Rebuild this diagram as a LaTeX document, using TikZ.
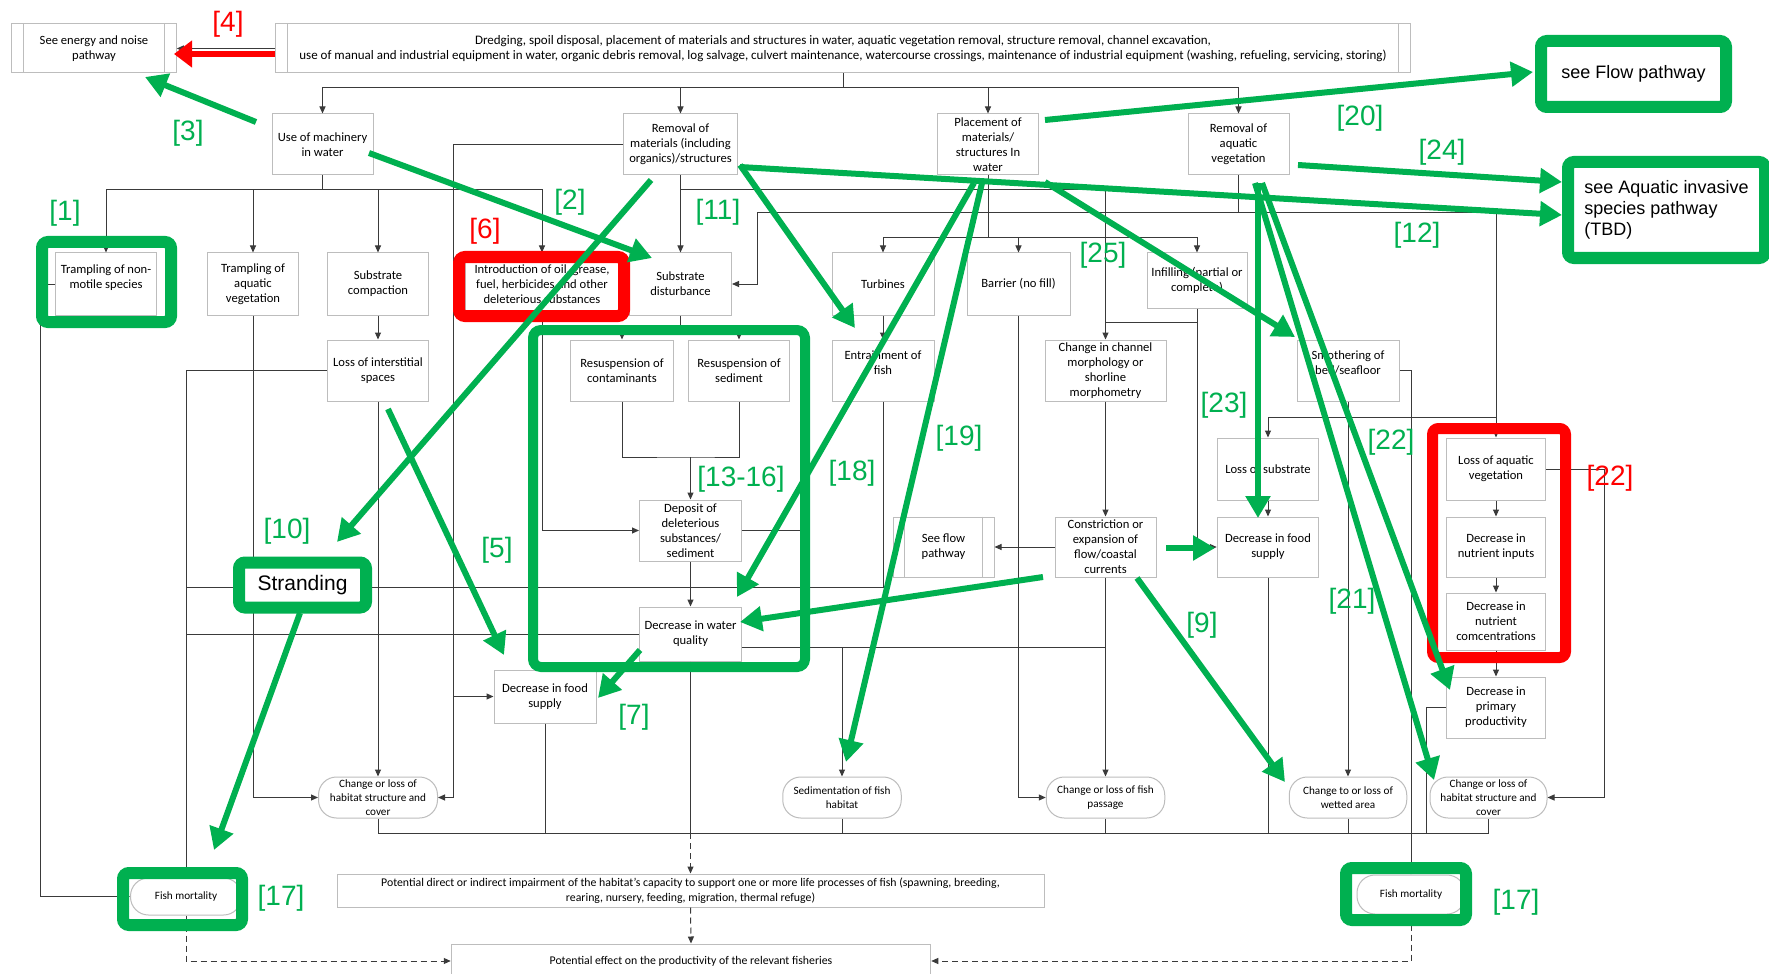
\documentclass[tikz,border=0pt]{standalone}
\usepackage{fontspec}
\setmainfont{Carlito}
\newfontfamily\arial{Liberation Sans}
\usetikzlibrary{arrows.meta}
\definecolor{ggreen}{HTML}{00B050}
\definecolor{rred}{HTML}{FF0000}
\definecolor{boxgray}{HTML}{BDBDBD}
\definecolor{linegray}{HTML}{3A3A3A}
\begin{document}
\begin{tikzpicture}[x=0.5pt,y=-0.5pt,
  wh/.style 2 args={minimum width={#1*0.5pt}, minimum height={#2*0.5pt}},
  box/.style={draw=boxgray, line width=0.5pt, fill=white, inner sep=0pt, align=center, font=\fontsize{6.3}{7.5}\selectfont},
  term/.style={box, rounded corners=9pt, font=\fontsize{5.6}{7}\selectfont},
  conn/.style={draw=linegray, line width=0.5pt},
  arr/.style={conn, -{Triangle[length=3.5pt,width=3pt]}},
  darr/.style={arr, dash pattern=on 3pt off 2pt},
  garrow/.style={draw=ggreen, line width=3pt, -{Triangle[length=11pt,width=12pt]}},
  gframe/.style={draw=ggreen, line width=6pt, rounded corners=3pt},
  rframe/.style={draw=rred, line width=6pt, rounded corners=3pt},
  glabel/.style={text=ggreen, font=\arial\fontsize{14}{14}\selectfont, inner sep=0pt},
  rlabel/.style={glabel, text=rred}]
\useasboundingbox (0,0) rectangle (1769,974);
\fill[white] (0,0) rectangle (1769,974);

% ---------- nodes ----------
\node[box,wh={164.5}{49}] (energy) at (94,48.5) {See energy and noise\\pathway};
\node[box,wh={1134.5}{49},font=\fontsize{6.5}{7.4}\selectfont] (top) at (843,48.5) {Dredging, spoil disposal, placement of materials and structures in water, aquatic vegetation removal, structure removal, channel excavation,\\use of manual and industrial equipment in water, organic debris removal, log salvage, culvert maintenance, watercourse crossings, maintenance of industrial equipment (washing, refueling, servicing, storing)};
\node[box,wh={101}{61}] (machinery) at (322.5,144.5) {Use of machinery\\in water};
\node[box,wh={114}{61}] (remmat) at (680.5,144.5) {Removal of\\materials (including\\organics)/structures};
\node[box,wh={101.5}{61}] (place) at (988,144.5) {Placement of\\materials/\\structures In\\water};
\node[box,wh={101}{61}] (remveg) at (1238.5,144.5) {Removal of\\aquatic\\vegetation};
\node[box,wh={101.5}{62}] (tramp1) at (106,284) {Trampling of non-\\motile species\\~};
\node[box,wh={91.5}{62}] (tramp2) at (253,284) {Trampling of\\aquatic\\vegetation};
\node[box,wh={101.6}{62}] (subcomp) at (378,284) {Substrate\\compaction};
\node[box,wh={154}{62}] (intro) at (542,284) {Introduction of oil, grease,\\fuel, herbicides and other\\deleterious substances};
\node[box,wh={102}{62}] (subdist) at (680.5,284) {Substrate\\disturbance};
\node[box,wh={102}{62}] (turbines) at (883,284) {Turbines};
\node[box,wh={103}{62}] (barrier) at (1018.5,284) {Barrier (no fill)};
\node[box,wh={100}{55}] (infill) at (1197,280.5) {Infilling (partial or\\complete)};
\node[box,wh={101.6}{61}] (lossint) at (378,370.5) {Loss of interstitial\\spaces};
\node[box,wh={103}{61}] (resp1) at (622,370.5) {Resuspension of\\contaminants};
\node[box,wh={101}{61}] (resp2) at (739,370.5) {Resuspension of\\sediment};
\node[box,wh={102}{61}] (entrain) at (883,370.5) {Entrainment of\\fish\\~};
\node[box,wh={121}{61}] (chmorph) at (1105.5,370.5) {Change in channel\\morphology or\\shorline\\morphometry};
\node[box,wh={102}{61}] (smoth) at (1348,370.5) {Smothering of\\bed/seafloor\\~};
\node[box,wh={101.5}{62}] (losssub) at (1268,469) {Loss of substrate};
\node[box,wh={99}{62}] (lossveg) at (1496,469) {Loss of aquatic\\vegetation};
\node[box,wh={102}{61}] (deposit) at (690.5,530.5) {Deposit of\\deleterious\\substances/\\sediment};
\node[box,wh={101}{60}] (seeflow) at (943.5,547) {See flow\\pathway};
\node[box,wh={101}{60}] (constr) at (1105.5,547) {Constriction or\\expansion of\\flow/coastal\\currents};
\node[box,wh={101.5}{60}] (dfs2) at (1268,547) {Decrease in food\\supply};
\node[box,wh={99}{60}] (dni) at (1496,547) {Decrease in\\nutrient inputs};
\node[box,wh={99}{57}] (dnc) at (1496,621.5) {Decrease in\\nutrient\\comcentrations};
\node[box,wh={102}{54}] (dwq) at (690.5,634) {Decrease in water\\quality};
\node[box,wh={102}{53}] (dfs1) at (545,696.5) {Decrease in food\\supply};
\node[box,wh={99}{61}] (dpp) at (1496,707.5) {Decrease in\\primary\\productivity};
\node[term,wh={119}{41}] (habL) at (378,797.5) {Change or loss of\\habitat structure and\\cover};
\node[term,wh={118.5}{41}] (sedim) at (842,797.5) {Sedimentation of fish\\habitat};
\node[term,wh={118.5}{41}] (fishpass) at (1105.5,797.5) {Change or loss of fish\\passage};
\node[term,wh={117.5}{41}] (wetted) at (1348,797.5) {Change to or loss of\\wetted area};
\node[term,wh={117}{41}] (habR) at (1488.5,797.5) {Change or loss of\\habitat structure and\\cover};
\node[term,wh={111}{37}] (fishm1) at (186,896.5) {Fish mortality};
\node[term,wh={108}{39}] (fishm2) at (1411,894.5) {Fish mortality};
\node[box,wh={707}{33},font=\fontsize{5.9}{7.3}\selectfont] (impair) at (690.5,890.5) {Potential direct or indirect impairment of the habitat’s capacity to support one or more life processes of fish (spawning, breeding,\\rearing, nursery, feeding, migration, thermal refuge)};
\node[box,wh={479.5}{34},font=\fontsize{5.9}{7.3}\selectfont] (prod) at (691,961) {Potential effect on the productivity of the relevant fisheries};

% predefined-process side lines
\foreach \n in {energy,top,seeflow}{
  \draw[draw=boxgray,line width=0.5pt] ([xshift=6pt]\n.north west) -- ([xshift=6pt]\n.south west);
  \draw[draw=boxgray,line width=0.5pt] ([xshift=-6pt]\n.north east) -- ([xshift=-6pt]\n.south east);
}

% ---------- black connectors ----------
\draw[arr] (top.west) -- (energy.east);
\coordinate (tb) at (843,88);
\draw[conn] (top.south) -- (tb);
\draw[arr] (tb) -| (machinery.north);
\draw[arr] (tb) -| (remmat.north);
\draw[arr] (tb) -| (place.north);
\draw[arr] (tb) -| (remveg.north);

\coordinate (mb) at (322.5,190);
\draw[conn] (machinery.south) -- (mb);
\draw[arr] (mb) -| (tramp1.north);
\draw[arr] (mb) -| (tramp2.north);
\draw[arr] (mb) -| (subcomp.north);
\draw[arr] (mb) -| (intro.north);

\draw[arr] (remmat.south) -- (subdist.north);
\coordinate (rmb) at (680.5,190);
\draw[arr] (rmb) -| (chmorph.north);
\coordinate (rml) at (453,797.5);
\draw[arr] (remmat.west) -| (rml) -- (habL.east);
\coordinate (rmf) at (453,696.5);
\draw[arr] (rmf) -- (dfs1.west);

\coordinate (pb) at (988,238);
\draw[conn] (place.south) -- (pb);
\draw[arr] (pb) -| (turbines.north);
\draw[arr] (pb) -| (barrier.north);
\draw[arr] (pb) -| (infill.north);

\coordinate (rvb) at (1238.5,213);
\coordinate (rvl) at (757,213);
\draw[arr] (remveg.south) -- (rvb) -- (rvl) |- (subdist.east);
\draw[arr] (rvb) -| (lossveg.north);
\coordinate (rvs) at (1496,417);
\draw[arr] (rvs) -| (losssub.north);

\draw[arr] (subcomp.south) -- (lossint.north);
\draw[arr] (lossint.west) -| (fishm1.north);
\coordinate (t1l) at (40,284);
\draw[arr] (tramp1.west) -- (t1l) |- (fishm1.west);
\draw[arr] (tramp2.south) |- (habL.west);
\draw[arr] (lossint.south) -- (habL.north);
\draw[arr] (intro.south) |- (deposit.west);

\coordinate (sdb) at (680.5,328);
\draw[conn] (subdist.south) -- (sdb);
\draw[arr] (sdb) -| (resp1.north);
\draw[arr] (sdb) -| (resp2.north);
\coordinate (rsb) at (690.5,457);
\draw[conn] (resp1.south) |- (rsb) -| (resp2.south);
\draw[arr] (rsb) -- (deposit.north);
\draw[arr] (deposit.south) -- (dwq.north);
\coordinate (dpr) at (801,587);
\draw[conn] (deposit.east) -| (dpr);
\coordinate (l587) at (186,587);
\draw[conn] (entrain.south) |- (l587);
\coordinate (l634) at (186,634);
\draw[conn] (dwq.west) -- (l634);

\draw[arr] (turbines.south) -- (entrain.north);
\draw[arr] (barrier.south) |- (fishpass.west);
\draw[arr] (infill.south) |- (dfs2.west);
\coordinate (ifb) at (1197,322);
\coordinate (ifc) at (1105.5,322);
\draw[conn] (ifb) -- (ifc);
\draw[arr] (chmorph.south) -- (constr.north);
\draw[arr] (constr.west) -- (seeflow.east);
\draw[arr] (constr.south) -- (fishpass.north);
\coordinate (c647) at (1105.5,647);
\coordinate (w647) at (742,647);
\draw[conn] (c647) -- (w647);
\coordinate (s647) at (842,647);
\draw[arr] (s647) -- (sedim.north);

\draw[arr] (losssub.south) -- (dfs2.north);
\draw[arr] (lossveg.south) -- (dni.north);
\draw[arr] (dni.south) -- (dnc.north);
\draw[arr] (dnc.south) -- (dpp.north);
\coordinate (lvr) at (1604,797.5);
\draw[arr] (lossveg.east) -| (lvr) -- (habR.east);
\draw[arr] (smoth.east) -| (fishm2.north);
\draw[arr] (smoth.south) -- (wetted.north);
\coordinate (dpl) at (1426,833);
\draw[conn] (dpp.west) -| (dpl);

\coordinate (cl) at (378,833);
\coordinate (cr) at (1488.5,833);
\coordinate (cm) at (690.5,833);
\draw[conn] (habL.south) -- (cl) -- (cr) -- (habR.south);
\draw[conn] (dfs1.south) -- (dfs1.south |- cl);
\draw[conn] (dwq.south) -- (cm);
\draw[conn] (sedim.south) -- (sedim.south |- cl);
\draw[conn] (fishpass.south) -- (fishpass.south |- cl);
\draw[conn] (dfs2.south) -- (dfs2.south |- cl);
\draw[conn] (wetted.south) -- (wetted.south |- cl);
\draw[darr] (cm) -- (impair.north);
\draw[darr] (impair.south) -- (prod.north);
\draw[darr] (fishm1.south) |- (prod.west);
\draw[darr] (fishm2.south) |- (prod.east);

% ---------- highlight frames ----------
\node[gframe, fill=white, inner sep=0pt, wh={127}{45}, font=\arial\fontsize{10.5}{12}\selectfont] (strand) at (302.5,585) {Stranding};
\draw[gframe] (42,242) rectangle (171,322);
\draw[gframe] (123,873) rectangle (242,925);
\draw[gframe] (1346,868) rectangle (1466,920);
\draw[gframe, line width=5pt, rounded corners=4pt] (533,330) rectangle (805,667);
\draw[rframe] (459,257) rectangle (624,316);
\draw[rframe, line width=5.5pt] (1432.5,428.5) rectangle (1565.5,657.5);
\node[gframe, fill=white, inner sep=0pt, wh={185}{66}, font=\arial\fontsize{9}{10.5}\selectfont] (flow) at (1633.5,74) {see Flow pathway};
\node[gframe, fill=white, inner sep=0pt, wh={197}{96}, align=left, font=\arial\fontsize{9}{10.5}\selectfont] (ais) at (1666.5,210) {see Aquatic invasive\\species pathway\\(TBD)};

% ---------- red / green arrows ----------
\coordinate (r4a) at (275,54); \coordinate (r4b) at (174,54);
\draw[draw=rred, line width=3.3pt, -{Triangle[length=9pt,width=13pt]}] (r4a) -- (r4b);

\coordinate (g3a) at (256,122);   \coordinate (g3b) at (145,77);
\coordinate (g2a) at (369,153);   \coordinate (g2b) at (652,258);
\coordinate (g10a) at (651,180);  \coordinate (g10b) at (337,542);
\coordinate (g11a) at (740,165);  \coordinate (g11b) at (855,328);
\coordinate (g12a) at (740,167);  \coordinate (g12b) at (1562,215);
\coordinate (g20a) at (1045,120); \coordinate (g20b) at (1533,72);
\coordinate (g24a) at (1298,165); \coordinate (g24b) at (1562,182);
\coordinate (g25a) at (1045,182); \coordinate (g25b) at (1295,337);
\coordinate (g18a) at (974,183);  \coordinate (g18b) at (737,597);
\coordinate (g19a) at (982,183);  \coordinate (g19b) at (846,762);
\coordinate (g23a) at (1258,183); \coordinate (g23b) at (1258,518);
\coordinate (g22a) at (1262,183); \coordinate (g22b) at (1450,690);
\coordinate (g21a) at (1255,183); \coordinate (g21b) at (1434,780);
\coordinate (g5a) at (388,409);   \coordinate (g5b) at (504,655);
\coordinate (g7a) at (640,650);   \coordinate (g7b) at (598,698);
\coordinate (gsa) at (300,613);   \coordinate (gsb) at (214,850);
\coordinate (gca) at (1043,577);  \coordinate (gcb) at (740,622);
\coordinate (gda) at (1166,548);  \coordinate (gdb) at (1215,548);
\coordinate (g9a) at (1137,578);  \coordinate (g9b) at (1285,782);
\foreach \a/\b in {g3a/g3b,g2a/g2b,g10a/g10b,g11a/g11b,g12a/g12b,g20a/g20b,g24a/g24b,g25a/g25b,g18a/g18b,g19a/g19b,g23a/g23b,g22a/g22b,g21a/g21b,g5a/g5b,g7a/g7b,gsa/gsb,gca/gcb,gda/gdb,g9a/g9b}
  \draw[garrow] (\a) -- (\b);

% ---------- labels ----------
\node[rlabel] (l4) at (228,24) {[4]};
\node[glabel] (l3) at (188,133) {[3]};
\node[glabel] (l1) at (65,213) {[1]};
\node[glabel] (l2) at (570,202) {[2]};
\node[rlabel] (l6) at (485,231) {[6]};
\node[glabel] (l11) at (718,212) {[11]};
\node[glabel] (l25) at (1103,255) {[25]};
\node[glabel] (l20) at (1360,118) {[20]};
\node[glabel] (l24) at (1442,152) {[24]};
\node[glabel] (l12) at (1417,235) {[12]};
\node[glabel] (l10) at (287,531) {[10]};
\node[glabel] (l5) at (497,550) {[5]};
\node[glabel] (l1316) at (741,479) {[13-16]};
\node[glabel] (l18) at (852,473) {[18]};
\node[glabel] (l19) at (959,438) {[19]};
\node[glabel] (l23) at (1224,405) {[23]};
\node[glabel] (l22g) at (1391,442) {[22]};
\node[rlabel] (l22r) at (1610,478) {[22]};
\node[glabel] (l21) at (1352,601) {[21]};
\node[glabel] (l9) at (1202,625) {[9]};
\node[glabel] (l7) at (634,717) {[7]};
\node[glabel] (l17a) at (281,898) {[17]};
\node[glabel] (l17b) at (1516,902) {[17]};
\end{tikzpicture}
\end{document}
